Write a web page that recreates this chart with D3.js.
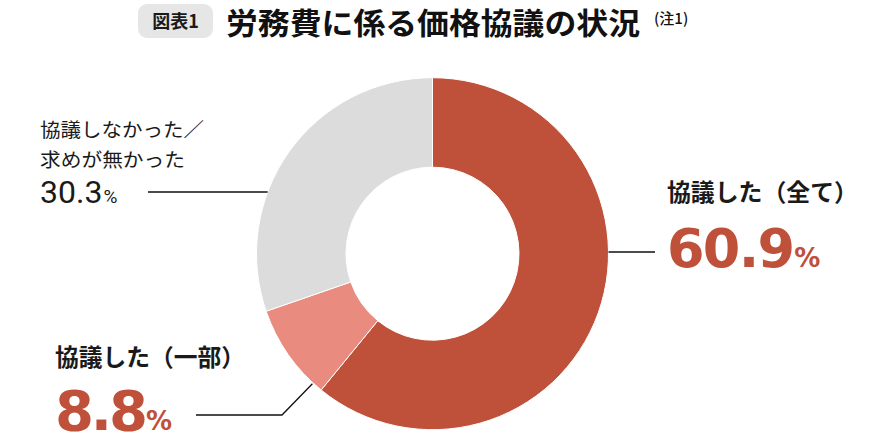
<!DOCTYPE html>
<html><head><meta charset="utf-8">
<script src="https://cdn.jsdelivr.net/npm/d3@7"></script>
<style>
html,body{margin:0;padding:0;background:#fff;}
svg{display:block;}
</style></head>
<body>
<svg id="chart" width="870" height="441"></svg>
<script>
const categories = ["協議した（全て）", "協議した（一部）", "協議しなかった／求めが無かった"];
const values = [60.9, 8.8, 30.3];
const colors = ["#bf503a", "#e98c7f", "#dcdcdc"];
const titleTag = "図表1";
const titleText = "労務費に係る価格協議の状況";
const titleNote = "(注1)";

const svg = d3.select("#chart");
const cx = 432.5, cy = 253.7, rOut = 176, rIn = 86.5;
const JP = "'Noto Sans CJK JP', 'Noto Sans', sans-serif";
const NUM = "Roboto, 'Liberation Sans', sans-serif";
const BIG = "'DejaVu Sans', Roboto, sans-serif";

// title
svg.append("rect").attr("x", 138).attr("y", 4).attr("width", 75).attr("height", 34).attr("rx", 9)
  .attr("fill", "#e6e6e6");
svg.append("text").attr("x", 175.5).attr("y", 28).attr("text-anchor", "middle")
  .attr("font-family", JP).attr("font-weight", 700).attr("font-size", 18).attr("fill", "#1a1a1a")
  .text(titleTag);
svg.append("text").attr("x", 226).attr("y", 34)
  .attr("font-family", JP).attr("font-weight", 700).attr("font-size", 30).attr("fill", "#111")
  .attr("textLength", 414).attr("lengthAdjust", "spacingAndGlyphs")
  .text(titleText);
svg.append("text").attr("x", 654).attr("y", 24)
  .attr("font-family", JP).attr("font-weight", 500).attr("font-size", 15).attr("fill", "#111")
  .text(titleNote);

// donut
const pie = d3.pie().sort(null).value(d => d)(values);
const arc = d3.arc().innerRadius(rIn).outerRadius(rOut);
const g = svg.append("g").attr("transform", `translate(${cx},${cy})`);
g.selectAll("path").data(pie).join("path")
  .attr("d", arc)
  .attr("fill", (d, i) => colors[i])
  .attr("stroke", "#fff").attr("stroke-width", 1);

// leader lines
const pt = (ang, r) => [cx + r * Math.sin(ang), cy - r * Math.cos(ang)];
const line = d3.line();
const lineStyle = s => s.attr("fill", "none").attr("stroke", "#111").attr("stroke-width", 1.3);
{
  const yL = 252;
  const xE = cx + Math.sqrt(rOut * rOut - (yL - cy) ** 2);
  svg.append("path").attr("d", line([[xE, yL], [655, yL]])).call(lineStyle);
}
{
  const yL = 192;
  const xE = cx - Math.sqrt(rOut * rOut - (yL - cy) ** 2);
  svg.append("path").attr("d", line([[148, yL], [xE, yL]])).call(lineStyle);
}
{
  const mid = pie[1].startAngle + (pie[1].endAngle - pie[1].startAngle) * 0.11;
  const p = pt(mid, rOut + 1);
  svg.append("path").attr("d", line([[196, 415], [282, 415], p])).call(lineStyle);
}

// percentage label helper: number fitted to a target width by letter spacing
function pct(x, y, num, numSize, pSize, weight, color, fam, targetW, gap) {
  const t = svg.append("text").attr("x", x).attr("y", y).attr("fill", color)
    .attr("font-family", fam).attr("font-weight", weight);
  const n = t.append("tspan").attr("font-size", numSize).text(num);
  if (targetW) {
    const w = n.node().getComputedTextLength();
    const ls = (targetW - w) / (num.length - 1);
    n.attr("letter-spacing", ls);
  }
  t.append("tspan").attr("font-size", pSize).attr("dx", gap).text("%");
}

// gray label
svg.append("text").attr("x", 40).attr("y", 137).attr("font-family", JP).attr("font-weight", 400)
  .attr("font-size", 19.5).attr("fill", "#1a1a1a").attr("textLength", 164).attr("lengthAdjust", "spacingAndGlyphs")
  .text("協議しなかった／");
svg.append("text").attr("x", 40).attr("y", 167).attr("font-family", JP).attr("font-weight", 400)
  .attr("font-size", 19.5).attr("fill", "#1a1a1a").attr("textLength", 145).attr("lengthAdjust", "spacingAndGlyphs")
  .text("求めが無かった");
pct(40, 203, values[2].toFixed(1), 32, 19, 400, "#1a1a1a", NUM, 0, 1);

// red label
svg.append("text").attr("x", 667).attr("y", 201).attr("font-family", JP).attr("font-weight", 700)
  .attr("font-size", 24).attr("fill", "#1a1a1a").attr("textLength", 191).attr("lengthAdjust", "spacingAndGlyphs")
  .text(categories[0]);
pct(667, 267, values[0].toFixed(1), 54, 26, 700, "#bf503a", BIG, 128, 1);

// pink label
svg.append("text").attr("x", 55).attr("y", 366).attr("font-family", JP).attr("font-weight", 700)
  .attr("font-size", 24).attr("fill", "#1a1a1a").attr("textLength", 190).attr("lengthAdjust", "spacingAndGlyphs")
  .text(categories[1]);
pct(55, 430, values[1].toFixed(1), 56, 26, 700, "#bf503a", BIG, 93, 1);
</script>
</body></html>
